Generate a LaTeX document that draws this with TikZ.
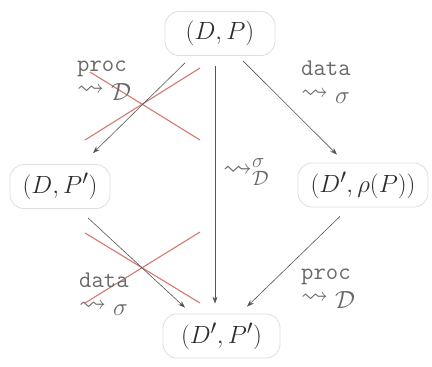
\documentclass[tikz,border=0pt]{standalone}
\usepackage{amssymb}
\usetikzlibrary{arrows.meta,calc}
\definecolor{nodeborder}{RGB}{222,222,222}
\definecolor{crossred}{RGB}{215,120,110}
\definecolor{arrowgray}{RGB}{85,85,85}
\definecolor{labelgray}{RGB}{105,105,105}
\definecolor{textgray}{RGB}{45,45,45}
\newcommand\bigrow[1]{{\fontsize{27}{29}\selectfont$#1$}}
\begin{document}
\begin{tikzpicture}[x=1pt,y=-1pt,
  state/.style={draw=nodeborder, line width=0.8pt, rounded corners=14pt, minimum height=44pt, inner xsep=5pt, text=textgray, font=\fontsize{29}{33}\selectfont},
  arr/.style={draw=arrowgray, line width=0.6pt, -{Stealth[length=7pt,width=5pt]}},
  cross/.style={draw=crossred, line width=1.1pt},
  lbl/.style={text=labelgray, font=\fontsize{24}{24}\selectfont, inner sep=0pt, align=left, anchor=north west}]
\useasboundingbox (0,0) rectangle (432,367);
\node[state, minimum width=110pt] (top) at (220,33.5) {$(D,P)$};
\node[state, minimum width=100pt] (left) at (60,186.5) {$(D,P')$};
\node[state, minimum width=130pt] (right) at (363,185) {$(D',\rho(P))$};
\node[state, minimum width=117pt] (bot) at (221.5,336) {$(D',P')$};
% red crosses
\draw[cross] (85,140) -- (200,68);
\draw[cross] (90,72) -- (200,140);
\draw[cross] (85,233) -- (200,303);
\draw[cross] (85,303) -- (200,232);
% arrows
\draw[arr] ($(top.south)+(-35,7)$) -- ($(left.north)+(33,-11)$);
\draw[arr] ($(top.south)+(-5,10)$) -- ($(bot.north)+(-6.5,-10)$);
\draw[arr] ($(top.south)+(23,5)$) -- ($(right.north)+(-26,-8)$);
\draw[arr] ($(left.south)+(28,9)$) -- ($(bot.north)+(-36.5,-6)$);
\draw[arr] ($(right.south)+(-23,9)$) -- ($(bot.north)+(25.5,-7)$);
% labels
\node[lbl] (ltl) at (77,61) {\texttt{proc}\\[0pt]\bigrow{\rightsquigarrow\raisebox{-5pt}{$\mathcal{D}$}}};
\node[lbl] (ltr) at (301,61) {\texttt{data}\\[0pt]\bigrow{\rightsquigarrow\raisebox{-4pt}{$\sigma$}}};
\node[lbl] (lbl) at (79,273) {\texttt{data}\\[0pt]\bigrow{\rightsquigarrow\raisebox{-4pt}{$\sigma$}}};
\node[lbl] (lbr) at (301,269) {\texttt{proc}\\[0pt]\bigrow{\rightsquigarrow\raisebox{-5pt}{$\mathcal{D}$}}};
\node[lbl, font=\fontsize{29}{31}\selectfont] (lmid) at (223,158) {$\rightsquigarrow^{\sigma}_{\mathcal{D}}$};
\end{tikzpicture}
\end{document}
